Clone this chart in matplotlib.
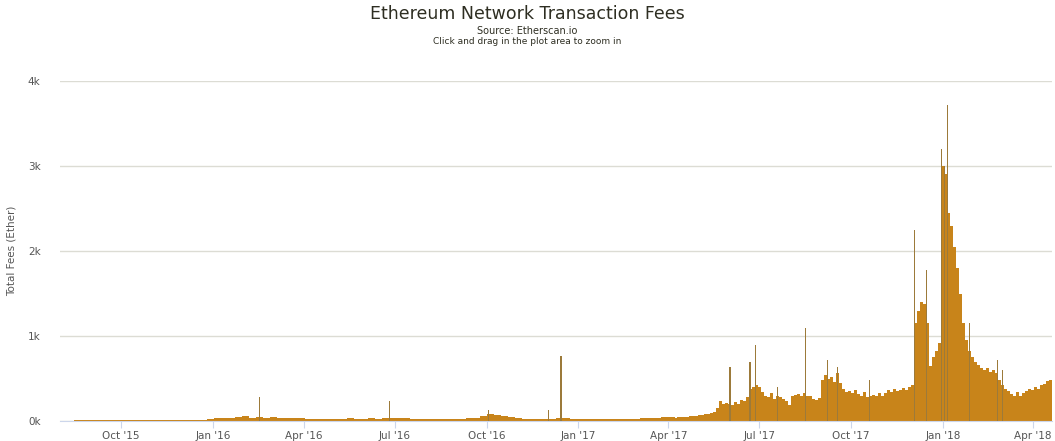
# ethereum daily tx fees, highcharts-style column chart
import numpy as np
import pandas as pd
import matplotlib
matplotlib.use("Agg")
import matplotlib.pyplot as plt
import matplotlib.dates as mdates

# ── data (ETH per day) ────────────────────────────────────────────────────────
# quiet period: weekly levels from launch to end of Mar 2017
quiet_start = "2015-08-01"
quiet_weekly = [
    3, 5, 6, 8, 6, 7, 8, 7, 8,
    8, 7, 9, 8, 10, 9, 10, 12, 11, 10, 12, 14, 18,
    30, 35, 40, 45, 55, 40, 50, 35, 45, 30, 40, 35, 38,
    25, 22, 25, 28, 24, 26, 30, 28, 25, 30, 28, 35, 40,
    35, 30, 25, 22, 24, 20, 22, 24, 25, 28, 30, 35, 60,
    80, 70, 60, 45, 30,
    25, 22, 24, 26, 28, 40, 30, 25, 22, 20, 22, 24,
    22, 25, 24, 26, 28, 30, 32, 38, 42, 45,
]

# active period: 3-day levels from Apr 2017 on
active_start = "2017-04-01"
active_3day = [
    40, 42, 38, 45,
    45, 50, 48, 55, 60, 58, 65,
    70, 80, 85, 95, 110, 150,
    230, 200, 215, 205,
    190, 220, 200, 250, 230, 280,
    380, 400, 420,
    400, 340,
    300, 280, 330, 260, 300, 280, 260, 240,
    190,
    290, 310, 320, 300, 330,
    300, 290,
    260, 250, 270,
    480, 540, 500,
    520, 460, 560, 450,
    380, 340, 350, 330, 360, 320,
    300, 340, 280, 300, 310, 290, 330, 300,
    330, 360, 340, 380, 350, 360, 390, 370, 400, 420,
    1150, 1300,
    1400, 1380,
    1150, 650,
    750, 820, 920,
    3000, 2900,
    2450, 2300,
    2050, 1800,
    1500, 1150,
    950, 820, 750,
    700, 660, 620, 600, 620, 580, 600,
    560, 480, 420,
    380, 350, 320, 300, 340,
    300, 330, 350, 380, 360, 400, 380, 420, 440, 470, 480,
]

# single-day spikes
spike_dates = [
    "2016-02-16", "2016-06-25", "2016-10-02", "2016-12-01", "2016-12-14",
    "2017-06-01", "2017-06-21", "2017-06-27", "2017-07-19", "2017-08-16",
    "2017-09-07", "2017-09-17", "2017-10-19", "2017-12-03", "2017-12-15",
    "2017-12-30", "2018-01-02", "2018-01-05", "2018-01-27", "2018-02-24",
    "2018-03-01",
]
spike_fees = [
    285, 240, 125, 125, 770,
    640, 700, 890, 400, 1100,
    720, 640, 480, 2250, 1780,
    3200, 3000, 3720, 1150, 720,
    600,
]

title = "Ethereum Network Transaction Fees"
subtitle = "Source: Etherscan.io"
hint = "Click and drag in the plot area to zoom in"
y_label = "Total Fees (Ether)"
y_ticks = [0, 1000, 2000, 3000, 4000]
y_tick_labels = ["0k", "1k", "2k", "3k", "4k"]

# ── style ─────────────────────────────────────────────────────────────────────
C_BAR   = "#c8841a"
C_SPIKE = "#9c7a3a"
C_GRID  = "#dcdcd4"
C_AXIS  = "#ccd6eb"
C_TICK  = "#555555"
C_TEXT  = "#2e2e22"

plt.rcParams["font.family"] = ["DejaVu Sans"]

fig = plt.figure(figsize=(10.55, 4.41), dpi=100, facecolor="white")
ax = fig.add_axes([60 / 1055, 1 - 421 / 441, 992 / 1055, 340 / 441])

quiet_x = pd.date_range(quiet_start, periods=len(quiet_weekly), freq="7D")
active_x = pd.date_range(active_start, periods=len(active_3day), freq="3D")
spike_x = pd.to_datetime(spike_dates)

ax.bar(quiet_x, quiet_weekly, width=7, align="edge", color=C_BAR,
       linewidth=0, zorder=2)
ax.bar(active_x, active_3day, width=3, align="edge", color=C_BAR,
       linewidth=0, zorder=2)
ax.bar(spike_x, spike_fees, width=1.2, align="edge", color=C_SPIKE,
       linewidth=0, zorder=3)

ax.set_xlim(pd.Timestamp("2015-08-01"), pd.Timestamp("2018-04-20"))
ax.set_ylim(0, 4000)

ax.set_yticks(y_ticks)
ax.set_yticklabels(y_tick_labels)
ax.grid(axis="y", color=C_GRID, linewidth=1, zorder=0)
ax.set_axisbelow(True)

ax.xaxis.set_major_locator(mdates.MonthLocator(bymonth=[1, 4, 7, 10]))
ax.xaxis.set_major_formatter(mdates.DateFormatter("%b '%y"))

for side in ["top", "right", "left"]:
    ax.spines[side].set_visible(False)
ax.spines["bottom"].set_color(C_AXIS)

ax.tick_params(axis="y", length=0, pad=14, labelsize=7.5, colors=C_TICK)
ax.tick_params(axis="x", length=5, color=C_AXIS, pad=2, labelsize=7.5,
               labelcolor=C_TICK)

ax.set_ylabel(y_label, fontsize=7.5, color=C_TICK, labelpad=8)

fig.text(0.5, 1 - 14 / 441, title, ha="center", va="center",
         fontsize=12.5, color=C_TEXT)
fig.text(0.5, 1 - 31 / 441, subtitle, ha="center", va="center",
         fontsize=7, color=C_TEXT)
fig.text(0.5, 1 - 41 / 441, hint, ha="center", va="center",
         fontsize=6.5, color=C_TEXT)

fig.savefig("out.png", dpi=100, facecolor="white")
